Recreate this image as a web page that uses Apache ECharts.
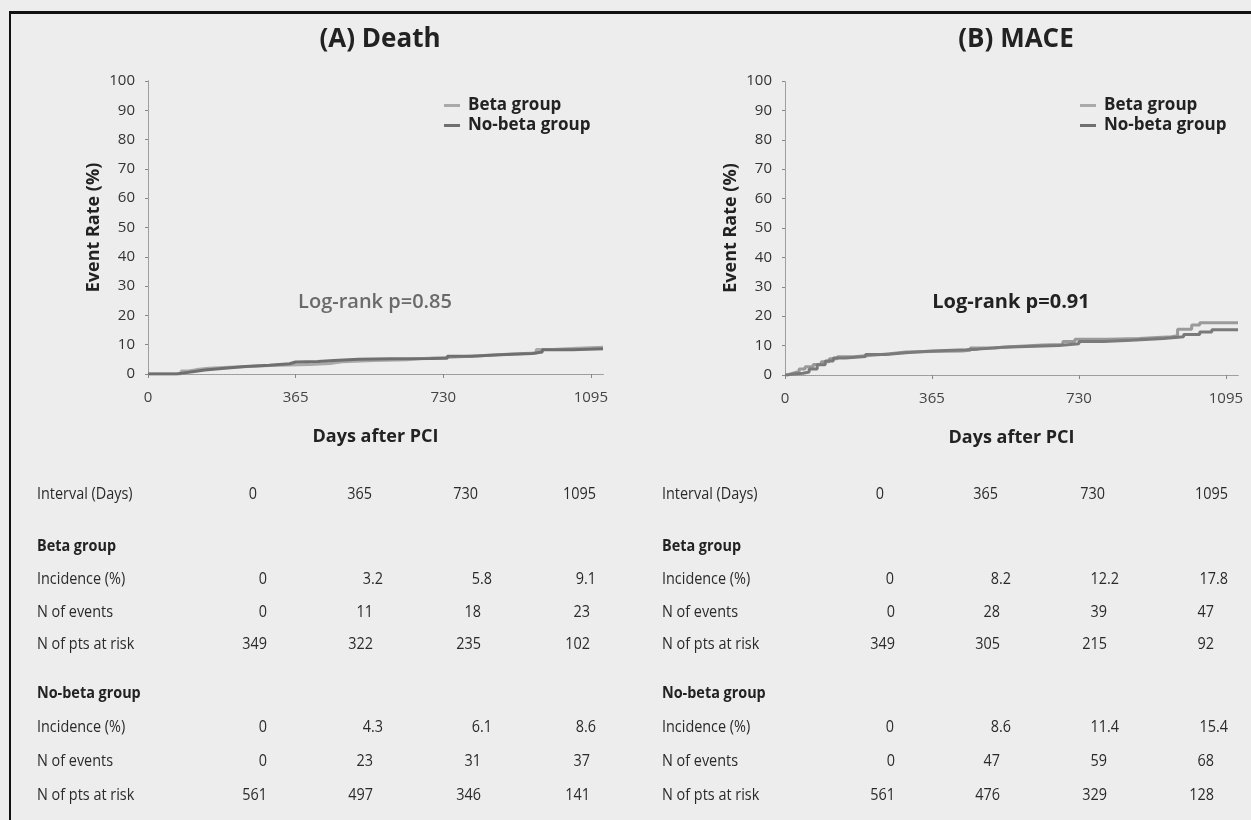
<!DOCTYPE html>
<html>
<head>
<meta charset="utf-8">
<script src="https://cdn.jsdelivr.net/npm/echarts@6/dist/echarts.min.js"></script>
<style>
  html, body { margin: 0; padding: 0; background: #ededed; }
  #chart { width: 1251px; height: 820px; }
</style>
</head>
<body>
<div id="chart"></div>
<script>
// km curves, [day, cumulative event rate %]
var deathBeta = [[0,0],[75,0],[82,1.0],[100,1.5],[120,2.0],[150,2.3],[200,2.6],[250,2.9],[300,3.2],[400,3.6],[450,4.2],[480,4.6],[560,4.9],[640,5.3],[680,5.8],[760,6.2],[820,6.8],[900,7.2],[960,8.4],[1000,8.8],[1060,9.1],[1125,9.1]];
var deathNoBeta = [[0,0],[60,0],[70,0.3],[85,0.8],[110,1.4],[140,2.0],[190,2.6],[240,3.0],[300,3.5],[350,4.1],[365,4.3],[420,4.6],[460,5.0],[520,5.2],[600,5.3],[700,5.4],[740,6.1],[800,6.6],[870,7.0],[950,7.5],[975,8.3],[1050,8.6],[1125,8.6]];
var maceBeta = [[0,0],[5,0.6],[20,1.2],[35,2.0],[50,2.8],[70,3.6],[90,4.5],[110,5.5],[130,6.2],[170,6.6],[210,7.2],[260,7.8],[300,8.0],[365,8.2],[440,8.4],[460,9.2],[520,9.6],[560,10.2],[640,10.4],[690,11.4],[720,12.2],[800,12.4],[880,13.0],[960,13.4],[975,15.6],[1010,17.0],[1030,17.8],[1125,17.8]];
var maceNoBeta = [[0,0],[5,0.3],[20,0.6],[45,1.0],[60,2.0],[80,3.5],[100,4.8],[120,5.8],[150,6.3],[200,7.0],[250,7.6],[300,8.2],[365,8.6],[450,8.8],[480,9.4],[540,9.7],[600,10.0],[680,10.6],[730,11.4],[790,11.8],[860,12.4],[940,13.0],[990,13.8],[1030,14.6],[1060,15.4],[1125,15.4]];

// tables under the plots
var intervalDays = [0, 365, 730, 1095];
var deathBetaInc = ['0', '3.2', '5.8', '9.1'];
var deathBetaEvents = [0, 11, 18, 23];
var deathBetaRisk = [349, 322, 235, 102];
var deathNoBetaInc = ['0', '4.3', '6.1', '8.6'];
var deathNoBetaEvents = [0, 23, 31, 37];
var deathNoBetaRisk = [561, 497, 346, 141];
var maceBetaInc = ['0', '8.2', '12.2', '17.8'];
var maceBetaEvents = [0, 28, 39, 47];
var maceBetaRisk = [349, 305, 215, 92];
var maceNoBetaInc = ['0', '8.6', '11.4', '15.4'];
var maceNoBetaEvents = [0, 47, 59, 68];
var maceNoBetaRisk = [561, 476, 329, 128];

var logRank = ['Log-rank p=0.85', 'Log-rank p=0.91'];

var sans = '"Open Sans", "Noto Sans", sans-serif';
var ink = '#222';

var chart = echarts.init(document.getElementById('chart'));

function boxAxes(gridIndex) {
  var dotted = { show: true, lineStyle: { color: '#999', type: 'dotted', width: 1 } };
  return {
    x: [
      {
        type: 'value', gridIndex: gridIndex, min: 0, max: 1125, interval: 365,
        axisLine: dotted,
        axisTick: { show: true, length: 4, lineStyle: { color: '#888' } },
        axisLabel: {
          showMaxLabel: false, margin: 16, fontSize: 15, color: '#444', fontFamily: sans,
          formatter: function (v) { return String(v); }
        },
        splitLine: { show: false },
        name: 'Days after PCI', nameLocation: 'middle', nameGap: 54,
        nameTextStyle: { fontSize: 18, fontWeight: 'bold', color: ink, fontFamily: sans }
      },
      {
        type: 'value', gridIndex: gridIndex, position: 'top', min: 0, max: 1125,
        axisLine: dotted, axisTick: { show: false }, axisLabel: { show: false }, splitLine: { show: false }
      }
    ],
    y: [
      {
        type: 'value', gridIndex: gridIndex, min: 0, max: 100, interval: 10,
        axisLine: dotted,
        axisTick: { show: true, length: 3, lineStyle: { color: '#888' } },
        axisLabel: { margin: 13, fontSize: 15, color: '#333', fontFamily: sans },
        splitLine: { show: false },
        name: 'Event Rate (%)', nameLocation: 'middle', nameGap: 45,
        nameTextStyle: { fontSize: 18, fontWeight: 'bold', color: ink, fontFamily: sans }
      },
      {
        type: 'value', gridIndex: gridIndex, position: 'right', min: 0, max: 100,
        axisLine: dotted, axisTick: { show: false }, axisLabel: { show: false }, splitLine: { show: false }
      }
    ]
  };
}

var axesA = boxAxes(0);
var axesB = boxAxes(1);

function kmSeries(name, data, axisIdx, color) {
  return {
    name: name, type: 'line', step: 'end', data: data,
    xAxisIndex: axisIdx, yAxisIndex: axisIdx,
    symbol: 'none', silent: true,
    lineStyle: { color: color, width: 3 },
    itemStyle: { color: color }
  };
}

// table text
var rowY = [494, 546, 579, 612, 644, 693, 727, 761, 795];
function tableGraphics(labelX, hdrRight, incRight, intRight, betaInc, betaEv, betaRisk, noInc, noEv, noRisk) {
  var out = [];
  function txt(x, y, s, align, bold) {
    out.push({
      type: 'text', x: x, y: y, scaleX: 0.9,
      style: {
        text: String(s), align: align, verticalAlign: 'middle',
        font: (bold ? 'bold ' : '') + '16px ' + sans, fill: bold ? ink : '#2a2a2a'
      }
    });
  }
  var labels = ['Interval (Days)', 'Beta group', 'Incidence (%)', 'N of events', 'N of pts at risk',
    'No-beta group', 'Incidence (%)', 'N of events', 'N of pts at risk'];
  labels.forEach(function (l, i) { txt(labelX, rowY[i], l, 'left', i === 1 || i === 5); });
  var rows = [
    [0, intervalDays, hdrRight], [2, betaInc, incRight], [3, betaEv, intRight], [4, betaRisk, intRight],
    [6, noInc, incRight], [7, noEv, intRight], [8, noRisk, intRight]
  ];
  rows.forEach(function (r) {
    r[1].forEach(function (v, j) { txt(r[2][j], rowY[r[0]], v, 'right', false); });
  });
  return out;
}

var graphics = []
  .concat(tableGraphics(37, [257, 372, 478, 596], [267, 383, 492, 596], [267, 373, 481, 590],
    deathBetaInc, deathBetaEvents, deathBetaRisk, deathNoBetaInc, deathNoBetaEvents, deathNoBetaRisk))
  .concat(tableGraphics(662, [884, 998, 1105, 1228], [894, 1011, 1119, 1228], [895, 1000, 1107, 1214],
    maceBetaInc, maceBetaEvents, maceBetaRisk, maceNoBetaInc, maceNoBetaEvents, maceNoBetaRisk));

// frame of the scanned figure
graphics.push({ type: 'rect', shape: { x: 9, y: 11, width: 1250, height: 3 }, style: { fill: '#111' } });
graphics.push({ type: 'rect', shape: { x: 9, y: 11, width: 2, height: 820 }, style: { fill: '#111' } });

// log-rank labels
graphics.push({ type: 'text', x: 375, y: 302, style: { text: logRank[0], align: 'center', verticalAlign: 'middle', font: '600 20px ' + sans, fill: '#6a6a6a' } });
graphics.push({ type: 'text', x: 1011, y: 302, style: { text: logRank[1], align: 'center', verticalAlign: 'middle', font: 'bold 20px ' + sans, fill: ink } });

var legendBase = {
  orient: 'vertical', top: 92, itemWidth: 16, itemHeight: 3, itemGap: 3, icon: 'rect',
  textStyle: { fontSize: 17, fontWeight: 'bold', color: ink, fontFamily: sans, padding: [0, 0, 0, 3] },
  data: ['Beta group', 'No-beta group']
};

chart.setOption({
  backgroundColor: '#ededed',
  animation: false,
  title: [
    { text: '(A) Death', left: 375, top: 22, textAlign: 'center', textStyle: { fontSize: 26, fontWeight: 'bold', color: ink, fontFamily: sans } },
    { text: '(B) MACE', left: 1011, top: 22, textAlign: 'center', textStyle: { fontSize: 26, fontWeight: 'bold', color: ink, fontFamily: sans } }
  ],
  legend: [
    Object.assign({}, legendBase, { left: 439 }),
    Object.assign({}, legendBase, { left: 1075 })
  ],
  grid: [
    { left: 148, right: 648, top: 81, bottom: 446 },
    { left: 785, right: 13, top: 81, bottom: 445 }
  ],
  xAxis: axesA.x.concat(axesB.x),
  yAxis: axesA.y.concat(axesB.y),
  series: [
    kmSeries('Beta group', deathBeta, 0, '#a9a9a9'),
    kmSeries('No-beta group', deathNoBeta, 0, '#6f6f6f'),
    kmSeries('Beta group', maceBeta, 2, '#9a9a9a'),
    kmSeries('No-beta group', maceNoBeta, 2, '#7a7a7a')
  ],
  graphic: graphics
});
</script>
</body>
</html>
